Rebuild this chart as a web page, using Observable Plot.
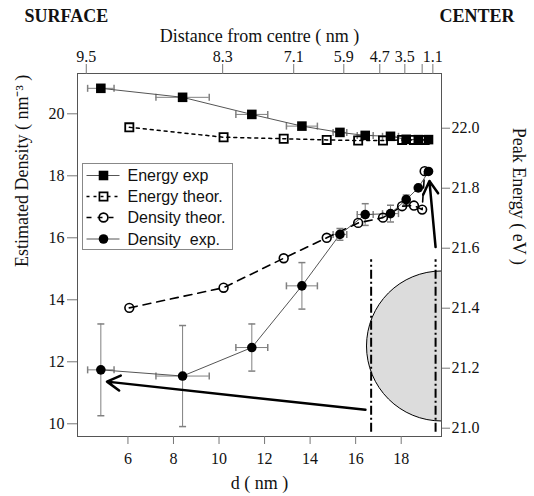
<!DOCTYPE html>
<html><head><meta charset="utf-8">
<script src="https://cdn.jsdelivr.net/npm/d3@7"></script>
<script src="https://cdn.jsdelivr.net/npm/@observablehq/plot@0.6"></script>
<style>body{margin:0;background:#fff;} #chart{width:534px;height:496px;}</style>
</head><body><div id="chart"></div>
<script>
// ---- data ----
const dExp = [4.81, 8.40, 11.44, 13.64, 15.31, 16.42, 17.53, 18.22, 18.75, 19.20];
const dExpErr = [0.58, 1.17, 0.70, 0.68, 0.30, 0.35, 0.35, 0, 0, 0];
const densityExp = [11.74, 11.54, 12.46, 14.45, 16.11, 16.75, 16.78, 17.23, 17.61, 18.14];
const densityExpErr = [1.48, 1.63, 0.76, 0.75, 0.19, 0.35, 0.27, 0.15, 0, 0];
const energyExp = [22.133, 22.103, 22.046, 22.007, 21.986, 21.976, 21.973, 21.963, 21.962, 21.962];
const dTheo = [6.06, 10.20, 12.84, 14.73, 16.11, 17.20, 18.04, 18.56, 18.92, 19.03];
const densityTheo = [13.74, 14.39, 15.34, 16.00, 16.48, 16.65, 17.02, 17.04, 16.91, 18.15];
const energyTheo = [22.003, 21.970, 21.965, 21.961, 21.959, 21.959, 21.961, 21.961, 21.961, 21.961];
const dTicks = [6, 8, 10, 12, 14, 16, 18];
const densityTicks = [10, 12, 14, 16, 18, 20];
const energyTicks = [21.0, 21.2, 21.4, 21.6, 21.8, 22.0];
const distanceTickD = [4.17, 10.16, 13.28, 15.48, 17.06, 18.16, 18.92, 19.39];
const distanceTickLabels = ["9.5", "8.3", "7.1", "5.9", "4.7", "3.5", "", "1.1"];
const legendLabels = ["Energy exp", "Energy theor.", "Density theor.", "Density  exp."];
// annotations (data coordinates)
const shellLines = [16.68, 19.51];
const shellSpan = [9.73, 15.29];
const arrowSegs = [{x1: 16.43, y1: 10.45, x2: 5.08, y2: 11.36}, {x1: 19.51, y1: 15.70, x2: 19.24, y2: 17.83}];
const xDomain = [3.785, 19.77];
const yDomain = [9.59, 21.3];
const coreCenter = [{d: xDomain[1], den: 12.51}];

// energy (eV) -> density-axis units (shared vertical pixel space)
const toDen = e => 19.535 + 9.677 * (e - 22);
const fromDen = y => 22 + (y - 19.535) / 9.677;

const expRows = dExp.map((d, i) => ({d, dErr: dExpErr[i], den: densityExp[i], denErr: densityExpErr[i], en: toDen(energyExp[i])}));
const theoRows = dTheo.map((d, i) => ({d, den: densityTheo[i], en: toDen(energyTheo[i])}));
const xErrRows = expRows.filter(r => r.dErr > 0);
const yErrRows = expRows.filter(r => r.denErr > 0);

const vCap = {draw(ctx, size) { const h = Math.sqrt(size / Math.PI); ctx.moveTo(0, -h); ctx.lineTo(0, h); }};
const hCap = {draw(ctx, size) { const h = Math.sqrt(size / Math.PI); ctx.moveTo(-h, 0); ctx.lineTo(h, 0); }};
const topLabel = new Map(distanceTickD.map((d, i) => [d, distanceTickLabels[i]]));
const errC = "#808080";

const chart = Plot.plot({
  width: 534, height: 496,
  marginLeft: 77, marginRight: 93, marginTop: 73, marginBottom: 60,
  style: {fontFamily: "Liberation Serif", fontSize: "16px", background: "white", color: "#111"},
  x: {domain: xDomain},
  y: {domain: yDomain},
  marks: [
    Plot.dot(coreCenter, {x: "d", y: "den", r: 75, fill: "#dcdcdc", stroke: "black", strokeWidth: 1, clip: "frame"}),
    Plot.ruleX(shellLines, {x: d => d, y1: shellSpan[0], y2: shellSpan[1], stroke: "black", strokeWidth: 2, strokeDasharray: "9,3,2,3"}),
    // error bars
    Plot.ruleY(xErrRows, {y: "den", x1: r => r.d - r.dErr, x2: r => r.d + r.dErr, stroke: errC, strokeWidth: 1}),
    Plot.dot(xErrRows, {x: r => r.d - r.dErr, y: "den", symbol: vCap, r: 3.5, stroke: errC, fill: "none"}),
    Plot.dot(xErrRows, {x: r => r.d + r.dErr, y: "den", symbol: vCap, r: 3.5, stroke: errC, fill: "none"}),
    Plot.ruleX(yErrRows, {x: "d", y1: r => r.den - r.denErr, y2: r => r.den + r.denErr, stroke: errC, strokeWidth: 1}),
    Plot.dot(yErrRows, {x: "d", y: r => r.den - r.denErr, symbol: hCap, r: 3.5, stroke: errC, fill: "none"}),
    Plot.dot(yErrRows, {x: "d", y: r => r.den + r.denErr, symbol: hCap, r: 3.5, stroke: errC, fill: "none"}),
    Plot.ruleY(xErrRows, {y: "en", x1: r => r.d - r.dErr, x2: r => r.d + r.dErr, stroke: errC, strokeWidth: 1}),
    Plot.dot(xErrRows, {x: r => r.d - r.dErr, y: "en", symbol: vCap, r: 3.5, stroke: errC, fill: "none"}),
    Plot.dot(xErrRows, {x: r => r.d + r.dErr, y: "en", symbol: vCap, r: 3.5, stroke: errC, fill: "none"}),
    // lines
    Plot.line(expRows, {x: "d", y: "en", stroke: "#555", strokeWidth: 1}),
    Plot.line(theoRows, {x: "d", y: "en", stroke: "black", strokeWidth: 1.5, strokeDasharray: "3,4"}),
    Plot.line(theoRows, {x: "d", y: "den", stroke: "black", strokeWidth: 1.6, strokeDasharray: "8,6"}),
    Plot.line(expRows, {x: "d", y: "den", stroke: "#555", strokeWidth: 1}),
    // markers
    Plot.dot(theoRows, {x: "d", y: "en", symbol: "square", r: 4.6, fill: "none", stroke: "black", strokeWidth: 1.8}),
    Plot.dot(expRows, {x: "d", y: "en", symbol: "square", r: 5.4, fill: "black"}),
    Plot.dot(theoRows, {x: "d", y: "den", r: 4.4, fill: "none", stroke: "black", strokeWidth: 1.6}),
    Plot.dot(expRows, {x: "d", y: "den", r: 4.8, fill: "black"}),
    // arrows
    Plot.arrow(arrowSegs, {x1: "x1", y1: "y1", x2: "x2", y2: "y2", stroke: "black", strokeWidth: 2.5, headLength: 9, bend: 0}),
    Plot.frame({stroke: "#555"}),
    // axes
    Plot.axisX({anchor: "bottom", ticks: dTicks, tickSize: 8, tickPadding: 8, label: null}),
    Plot.axisX({anchor: "top", ticks: distanceTickD, tickFormat: d => topLabel.get(d), tickSize: 10, tickPadding: 2, label: null}),
    Plot.axisY({anchor: "left", ticks: densityTicks, tickSize: 10, tickPadding: 3, label: null}),
    Plot.axisY({anchor: "right", ticks: energyTicks.map(toDen), tickFormat: y => fromDen(y).toFixed(1), tickSize: 8, tickPadding: 2, label: null}),
    // titles
    Plot.text(["SURFACE"], {text: d => d, frameAnchor: "top-left", dx: -53, dy: -57, textAnchor: "start", lineAnchor: "middle", fontWeight: "bold", fontSize: 18}),
    Plot.text(["CENTER"], {text: d => d, frameAnchor: "top-right", dx: 73, dy: -57, textAnchor: "end", lineAnchor: "middle", fontWeight: "bold", fontSize: 18}),
    Plot.text(["Distance from centre ( nm )"], {text: d => d, frameAnchor: "top", dy: -37, lineAnchor: "middle", fontSize: 18}),
    Plot.text(["d ( nm )"], {text: d => d, frameAnchor: "bottom", dy: 47, lineAnchor: "middle", fontSize: 18}),
    Plot.text(["Estimated Density ( nm\u207B\u00B3 )"], {text: d => d, frameAnchor: "left", dx: -55, dy: 12, rotate: -90, lineAnchor: "middle", fontSize: 18}),
    Plot.text(["Peak Energy ( eV )"], {text: d => d, frameAnchor: "right", dx: 77, dy: 10, rotate: 90, lineAnchor: "middle", fontSize: 18})
  ]
});
document.getElementById("chart").appendChild(chart);

// tick colour
chart.querySelectorAll('g[aria-label="x-axis tick"], g[aria-label="y-axis tick"]').forEach(g => g.setAttribute("stroke", "#777"));

// legend
const svg = d3.select(chart);
const lg = svg.append("g").attr("transform", "translate(82.5,163.5)").attr("text-anchor", "start");
lg.append("rect").attr("width", 150).attr("height", 86).attr("fill", "white").attr("stroke", "#888");
const rowsY = [12, 33, 54, 75.5];
const styles = [
  {dash: null, stroke: "#555", sym: d3.symbolSquare, size: Math.PI * 5.4 * 5.4, fill: "black", sw: 1},
  {dash: "3,4", stroke: "black", sym: d3.symbolSquare, size: Math.PI * 4.6 * 4.6, fill: "none", sw: 1.5},
  {dash: "5,6", stroke: "black", sym: d3.symbolCircle, size: Math.PI * 4.4 * 4.4, fill: "none", sw: 1.5},
  {dash: null, stroke: "#555", sym: d3.symbolCircle, size: Math.PI * 4.8 * 4.8, fill: "black", sw: 1}
];
legendLabels.forEach((lab, i) => {
  const s = styles[i], y = rowsY[i];
  const line = lg.append("line").attr("x1", 4).attr("x2", 37).attr("y1", y).attr("y2", y)
    .attr("stroke", s.stroke).attr("stroke-width", s.sw);
  if (s.dash) line.attr("stroke-dasharray", s.dash);
  lg.append("path").attr("d", d3.symbol(s.sym, s.size)()).attr("transform", `translate(21,${y})`)
    .attr("fill", s.fill).attr("stroke", s.fill === "none" ? "black" : "none").attr("stroke-width", 1.7);
  lg.append("text").attr("x", 45).attr("y", y).attr("dy", "0.35em").attr("text-anchor", "start")
    .attr("font-family", "Liberation Sans, Arial, sans-serif").attr("font-size", 16)
    .style("white-space", "pre").attr("fill", "#111").text(lab);
});
</script>
</body></html>
